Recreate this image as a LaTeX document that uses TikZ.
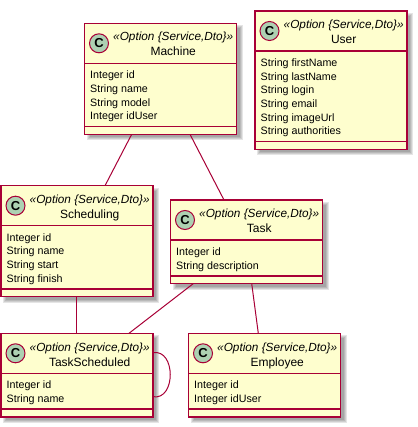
\documentclass[tikz,border=0pt]{standalone}
\usepackage{fontspec}
\setmainfont{Liberation Sans}
\usetikzlibrary{calc}
\definecolor{boxfill}{HTML}{FEFECE}
\definecolor{boxline}{HTML}{A80036}
\definecolor{circfill}{HTML}{ADD1B2}
\tikzset{
  classbox/.style={rectangle, draw=boxline, fill=boxfill, line width=1.5pt, minimum width=152pt, inner sep=0pt, outer sep=0pt},
  sepline/.style={draw=boxline, line width=1.5pt},
  circ/.style={circle, draw=boxline, fill=circfill, line width=1pt, minimum size=19pt, inner sep=0pt, font=\fontsize{13}{15}\selectfont\bfseries},
  stereo/.style={inner sep=0pt, font=\fontsize{11.8}{14}\selectfont\itshape},
  ctitle/.style={inner sep=0pt, font=\fontsize{12}{14}\selectfont},
  attr/.style={inner sep=0pt, font=\fontsize{10.7}{13}\selectfont},
  edge/.style={draw=boxline, line width=1pt},
}
\newcommand\umlclass[6]{%
  \pgfmathsetmacro\hh{40+8.5+#4*13.7+7.7}
  \foreach \k in {0,...,3} {
    \fill[black, opacity=0.1] (#2+2+\k, #3+2+\k) rectangle (#2+152+6-\k, #3+\hh+6-\k);
  }
  \node[classbox, minimum height=\hh pt, anchor=north west] (#1) at (#2,#3) {};
  \draw[sepline] ($(#1.north west)+(0,40)$) -- ($(#1.north east)+(0,40)$);
  \draw[sepline] ($(#1.north west)+(0,48.5+#4*13.7)$) -- ($(#1.north east)+(0,48.5+#4*13.7)$);
  \node[circ] (#1-c) at ($(#1.north west)+(14.5,20)$) {C};
  \node[stereo, anchor=base west] (#1-s) at ($(#1.north west)+(28.5,17.7)$) {«Option \{Service,Dto\}»};
  \node[ctitle, anchor=base] (#1-n) at ($(#1-s.base)+(0,15)$) {#5};
  \foreach \t [count=\i] in {#6} {
    \node[attr, anchor=base west] (#1-a\i) at ($(#1.north west)+(5.5,40+15.5+\i*13.7-13.7)$) {\t};
  }
}
\begin{document}
\begin{tikzpicture}[x=1pt, y=-1pt]
  \useasboundingbox (0,0) rectangle (417,427);
  \umlclass{m}{84.5}{23.3}{4}{Machine}{Integer id, String name, String model, Integer idUser}
  \umlclass{u}{255}{11}{6}{User}{String firstName, String lastName, String login, String email, String imageUrl, String authorities}
  \umlclass{s}{1}{185.7}{4}{Scheduling}{Integer id, String name, String start, String finish}
  \umlclass{t}{170.5}{200}{2}{Task}{Integer id, String description}
  \umlclass{ts}{1}{333.3}{2}{TaskScheduled}{Integer id, String name}
  \umlclass{e}{188.5}{333.3}{2}{Employee}{Integer id, Integer idUser}
  % connectors
  \draw[edge] ($(m.south west)+(47.2,0)$) -- ($(s.north west)+(104,0)$);
  \draw[edge] ($(m.south west)+(105.5,0)$) -- ($(t.north west)+(53.5,0)$);
  \draw[edge] ($(s.south west)+(75,0)$) -- ($(ts.north west)+(75,0)$);
  \draw[edge] ($(t.south west)+(22.8,0)$) -- ($(ts.north west)+(128,0)$);
  \draw[edge] ($(t.south west)+(81.2,0)$) -- ($(e.north west)+(69.8,0)$);
  \coordinate (l1) at ($(ts.north east)+(0,19.4)$);
  \coordinate (l2) at ($(ts.north east)+(0,63.4)$);
  \draw[edge] (l1) .. controls ($(l1)+(23,-4)$) and ($(l2)+(23,4)$) .. (l2);
\end{tikzpicture}
\end{document}
